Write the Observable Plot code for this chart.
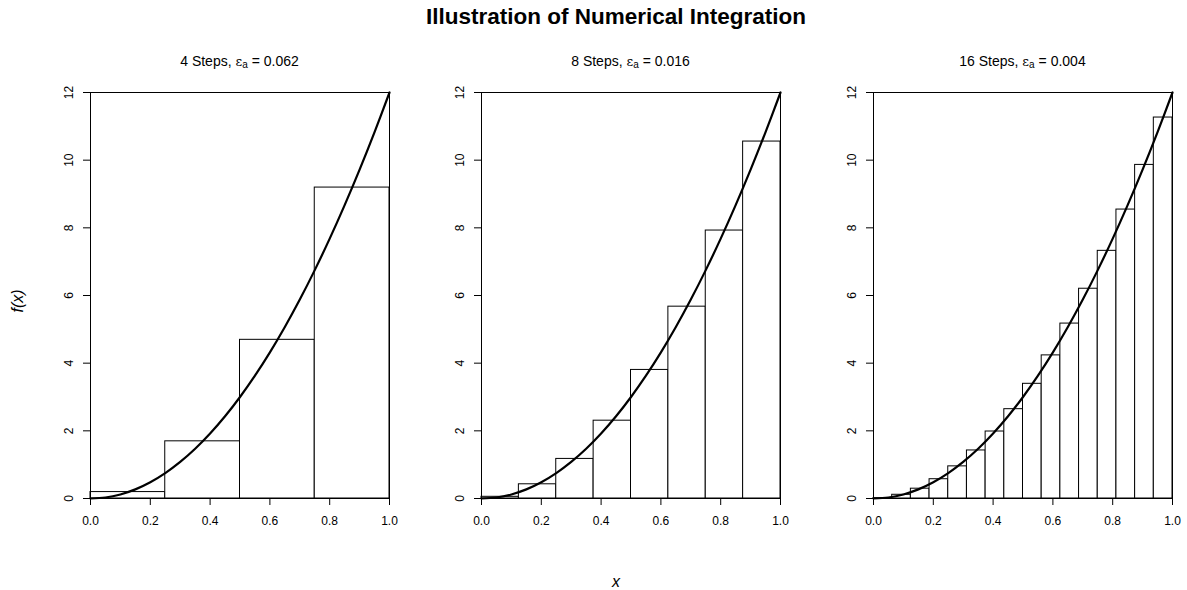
<!DOCTYPE html>
<html>
<head>
<meta charset="utf-8">
<script src="https://cdn.jsdelivr.net/npm/d3@7"></script>
<script src="https://cdn.jsdelivr.net/npm/@observablehq/plot@0.6"></script>
<style>
  body { margin: 0; background: #fff; font-family: "Liberation Sans", Arial, sans-serif; color: #000; }
  #chart { position: relative; width: 1187px; height: 590px; overflow: hidden; background: #fff; }
  .abs { position: absolute; white-space: nowrap; }
  .title { font-weight: bold; font-size: 22.5px; transform: translate(-50%, 0); }
  .sub { font-size: 14px; transform: translate(-50%, -50%); }
  .sub sub { font-size: 10px; vertical-align: -2px; line-height: 0; }
  .eps { font-family: "DejaVu Serif", serif; font-size: 13px; }
  .lab { font-style: italic; font-size: 16px; }
  .panel { position: absolute; }
</style>
</head>
<body>
<div id="chart"></div>
<script>
// Panel settings: number of midpoint steps and the reported approximate error
const steps = [4, 8, 16];
const errors = ["0.062", "0.016", "0.004"];

// Midpoint-rule rectangle heights for each panel
const heights4 = [0.19, 1.69, 4.69, 9.19];
const heights8 = [0.05, 0.42, 1.17, 2.30, 3.80, 5.67, 7.92, 10.55];
const heights16 = [0.01, 0.11, 0.29, 0.57, 0.95, 1.42, 1.98, 2.64,
                   3.39, 4.23, 5.17, 6.20, 7.32, 8.54, 9.86, 11.26];

// The integrand f(x), sampled along [0, 1]
const curveX = [0, 0.05, 0.1, 0.15, 0.2, 0.25, 0.3, 0.35, 0.4, 0.45, 0.5,
                0.55, 0.6, 0.65, 0.7, 0.75, 0.8, 0.85, 0.9, 0.95, 1];
const curveY = [0, 0.03, 0.12, 0.27, 0.48, 0.75, 1.08, 1.47, 1.92, 2.43, 3.00,
                3.63, 4.32, 5.07, 5.88, 6.75, 7.68, 8.67, 9.72, 10.83, 12.00];

// Axis tick values
const xTicks = [0, 0.2, 0.4, 0.6, 0.8, 1.0];
const yTicks = [0, 2, 4, 6, 8, 10, 12];

const chart = document.getElementById("chart");
const curve = curveX.map((x, i) => ({x, y: curveY[i]}));
const allHeights = [heights4, heights8, heights16];

// Page layout: left edge of each panel's plotting region
const panelLeft = [90, 481, 873];
const mL = 50, mR = 10, mT = 10, mB = 40;
const plotW = 299, plotH = 406, plotTop = 92;

function addDiv(cls, html, left, top) {
  const d = document.createElement("div");
  d.className = cls;
  d.innerHTML = html;
  d.style.left = left + "px";
  d.style.top = top + "px";
  chart.appendChild(d);
  return d;
}

addDiv("abs title", "Illustration of Numerical Integration", 616, 4);

steps.forEach((n, p) => {
  const h = allHeights[p];
  const bars = h.map((v, i) => ({x1: i / n, x2: (i + 1) / n, h: v}));

  const svg = Plot.plot({
    width: mL + plotW + mR,
    height: mT + plotH + mB,
    marginLeft: mL, marginRight: mR, marginTop: mT, marginBottom: mB,
    style: {fontFamily: '"Liberation Sans", Arial, sans-serif', fontSize: "12px", color: "#000", background: "transparent", overflow: "visible"},
    x: {domain: [0, 1]},
    y: {domain: [0, 12]},
    marks: [
      Plot.rect(bars, {x1: "x1", x2: "x2", y1: 0, y2: "h", fill: "white", stroke: "black", strokeWidth: 1}),
      Plot.line(curve, {x: "x", y: "y", curve: "catmull-rom", stroke: "black", strokeWidth: 2.2}),
      Plot.frame({stroke: "black", strokeWidth: 1}),
      Plot.axisX({ticks: xTicks, tickFormat: d3.format(".1f"), tickSize: 7, tickPadding: 11, label: null}),
      Plot.axisY({ticks: yTicks, tickSize: 7, tickPadding: 11, tickRotate: -90, label: null})
    ]
  });
  const wrap = document.createElement("div");
  wrap.className = "panel";
  wrap.style.left = (panelLeft[p] - mL) + "px";
  wrap.style.top = (plotTop - mT) + "px";
  wrap.appendChild(svg);
  chart.appendChild(wrap);

  const cx = panelLeft[p] + plotW / 2;
  addDiv("abs sub", `${n} Steps, <span class="eps">ε</span><sub>a</sub> = ${errors[p]}`, cx, 61);
});

// Shared axis titles
const yl = addDiv("abs lab", "f(x)", 18, 301);
yl.style.transform = "translate(-50%, -50%) rotate(-90deg)";
const xl = addDiv("abs lab", "x", 616, 582);
xl.style.transform = "translate(-50%, -50%)";
</script>
</body>
</html>
